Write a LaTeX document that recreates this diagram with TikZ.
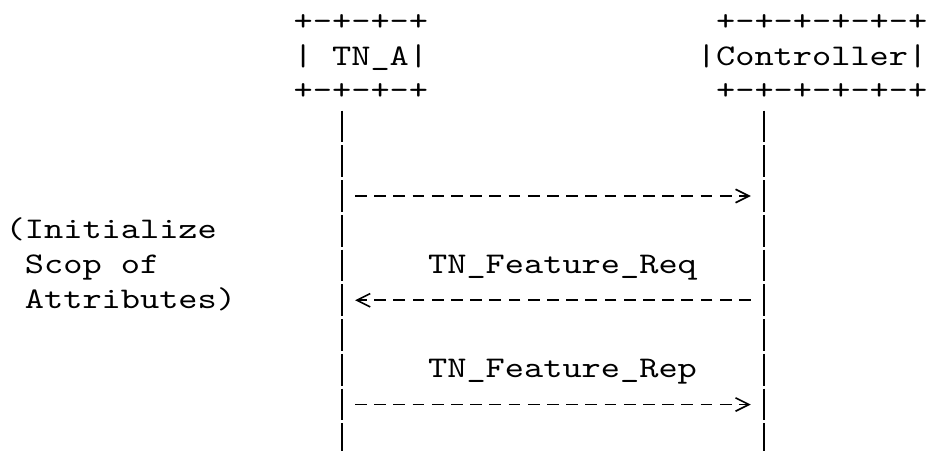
\documentclass[tikz,border=0pt]{standalone}
\usepackage{fontspec}
\newfontfamily\asciifont{lmmono10-regular.otf}[FakeStretch=1.219]
\usetikzlibrary{arrows.meta}
\tikzstyle{ascii}=[inner sep=0pt,anchor=base,font={\asciifont\fontsize{30pt}{34.75pt}\selectfont}]
\tikzstyle{life}=[line width=1.6pt,dash pattern=on 31.6pt off 3.15pt]
\tikzstyle{msg}=[line width=1.6pt,dash pattern=on 11.7pt off 7.5pt,shorten <=13.35pt,shorten >=1.35pt,-{Straight Barb[length=13.4pt,width=13.4pt,sep=12pt]}]

\begin{document}
\begin{tikzpicture}[x=1pt,y=-1pt]
	\useasboundingbox (0,0) rectangle (928,450);
	\node[ascii] (tnatop) at (360.9,30.25) {+-+-+-+};
	\node[ascii] (tna) at (360.9,65) {| TN\_A|};
	\node[ascii] (tnabot) at (360.9,99.75) {+-+-+-+};
	\node[ascii] (ctrltop) at (821.7,30.25) {+-+-+-+-+-+};
	\node[ascii] (ctrl) at (812.1,65) {|Controller|};
	\node[ascii] (ctrlbot) at (821.7,99.75) {+-+-+-+-+-+};

	\node[ascii] (init1) at (111.3,238.75) {(Initialize};
	\node[ascii] (init2) at (92.1,273.5) {Scop of};
	\node[ascii] (init3) at (130.5,308.25) {Attributes)};
	\node[ascii] (req) at (562.5,273.5) {TN\_Feature\_Req};
	\node[ascii] (rep) at (562.5,377.75) {TN\_Feature\_Rep};

	\coordinate (la) at (341.7,110.7);
	\coordinate (lb) at (341.7,455);
	\coordinate (ra) at (764.1,110.7);
	\coordinate (rb) at (764.1,455);
	\coordinate (a5) at (341.7,196);
	\coordinate (b5) at (764.1,196);
	\coordinate (a8) at (341.7,300.25);
	\coordinate (b8) at (764.1,300.25);
	\coordinate (a11) at (341.7,404.5);
	\coordinate (b11) at (764.1,404.5);

	\draw[life] (la) -- (lb);
	\draw[life] (ra) -- (rb);
	\path[msg] (a5) edge (b5)
	           (b8) edge (a8)
	           (a11) edge (b11);
\end{tikzpicture}
\end{document}
